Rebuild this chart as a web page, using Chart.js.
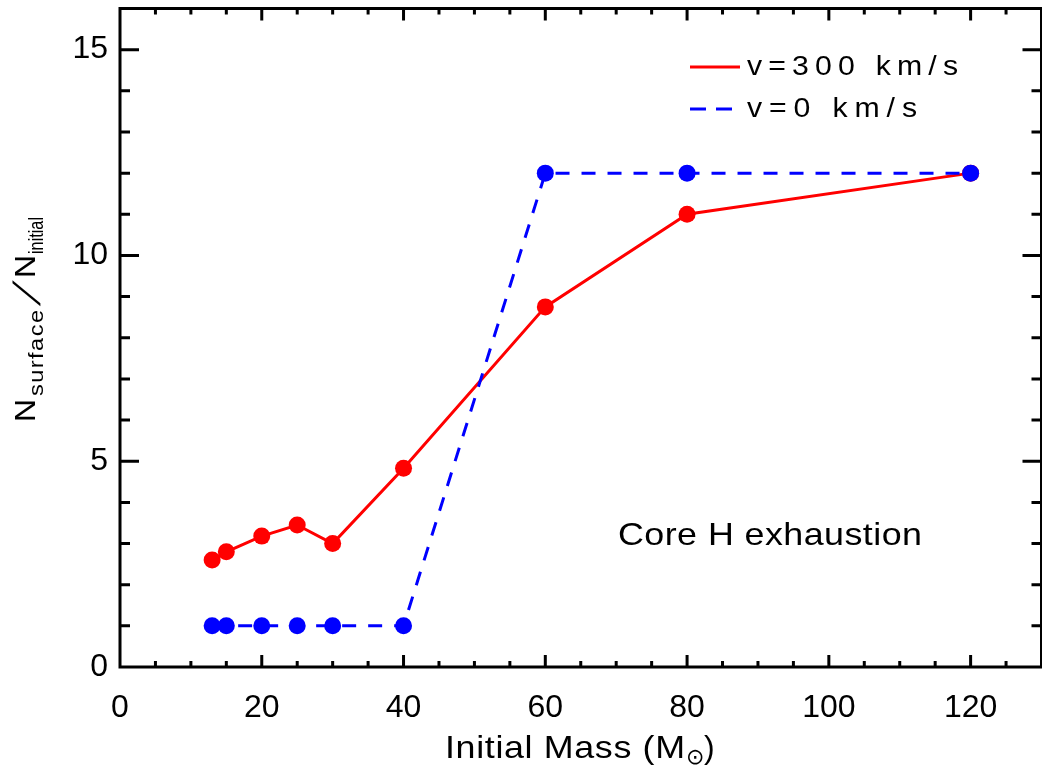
<!DOCTYPE html>
<html>
<head>
<meta charset="utf-8">
<script src="https://cdn.jsdelivr.net/npm/chart.js@4.4.1/dist/chart.umd.min.js"></script>
<style>
  html, body { margin: 0; padding: 0; background: #fff; overflow: hidden; }
  #wrap { width: 1050px; height: 774px; }
</style>
</head>
<body>
<div id="wrap"><canvas id="nChart" width="1050" height="774"></canvas></div>
<script>
// initial masses (Msun) and surface N enrichment
var massRot = [13, 15, 20, 25, 30, 40, 60, 80, 120];
var ratioRot = [2.6, 2.8, 3.18, 3.45, 3.0, 4.83, 8.75, 11.0, 12.0];
var massNoRot = [13, 15, 20, 25, 30, 40, 60, 80, 120];
var ratioNoRot = [1, 1, 1, 1, 1, 1, 12, 12, 12];

var xTicks = [0, 20, 40, 60, 80, 100, 120];
var yTicks = [0, 5, 10, 15];
var seriesNames = ['v=300 km/s', 'v=0 km/s'];

var FONT = '"Liberation Sans", Arial, sans-serif';

function toPoints(xs, ys) {
  return xs.map(function (x, i) { return { x: x, y: ys[i] }; });
}

// stretch a string to a given width: a bit of scaling, rest as letter spacing
function fitText(ctx, str, x, y, width) {
  ctx.letterSpacing = '0px';
  var w = ctx.measureText(str).width;
  var sx = Math.min(1.12, width / w);
  var ls = (width / sx - w) / Math.max(1, str.length - 1);
  ctx.save();
  ctx.translate(x, y);
  ctx.scale(sx, 1);
  ctx.letterSpacing = ls + 'px';
  ctx.fillText(str, 0, 0);
  ctx.restore();
  ctx.letterSpacing = '0px';
}

var framePlugin = {
  id: 'frame',
  afterDraw: function (chart) {
    var ctx = chart.ctx;
    var a = chart.chartArea;
    var xs = chart.scales.x, ys = chart.scales.y;
    ctx.save();
    ctx.strokeStyle = '#000';
    ctx.lineWidth = 3;
    ctx.strokeRect(a.left, a.top, a.right - a.left, a.bottom - a.top);

    ctx.beginPath();
    for (var v = 5; v <= 130; v += 5) {
      var px = xs.getPixelForValue(v);
      var len = (v % 20 === 0) ? 12 : 6;
      ctx.moveTo(px, a.bottom); ctx.lineTo(px, a.bottom - len);
      ctx.moveTo(px, a.top); ctx.lineTo(px, a.top + len);
    }
    for (var u = 1; u <= 16; u++) {
      var py = ys.getPixelForValue(u);
      var l2 = (u % 5 === 0) ? 19 : 10;
      ctx.moveTo(a.left, py); ctx.lineTo(a.left + l2, py);
      ctx.moveTo(a.right, py); ctx.lineTo(a.right - l2, py);
    }
    ctx.stroke();

    // legend
    ctx.lineWidth = 3;
    ctx.strokeStyle = '#ff0000';
    ctx.beginPath(); ctx.moveTo(690, 67); ctx.lineTo(740, 67); ctx.stroke();
    ctx.strokeStyle = '#0000ff';
    ctx.setLineDash([16, 10]);
    ctx.beginPath(); ctx.moveTo(690, 109); ctx.lineTo(733, 109); ctx.stroke();
    ctx.setLineDash([]);

    ctx.fillStyle = '#000';
    ctx.textAlign = 'left';
    ctx.textBaseline = 'alphabetic';
    ctx.font = '27px ' + FONT;
    fitText(ctx, seriesNames[0], 747, 75, 211);
    fitText(ctx, seriesNames[1], 747, 117, 170);

    ctx.font = '32px ' + FONT;
    fitText(ctx, 'Core H exhaustion', 618, 545, 304);

    // x title
    fitText(ctx, 'Initial Mass (M', 445, 758, 240);
    ctx.font = '22px "DejaVu Sans", sans-serif';
    ctx.fillText('\u2299', 686, 764);
    ctx.font = '32px ' + FONT;
    ctx.fillText(')', 704, 758);

    // y title, rotated
    ctx.translate(35, 422);
    ctx.rotate(-Math.PI / 2);
    ctx.font = '30px ' + FONT;
    fitText(ctx, 'N', 0, 0, 23);
    ctx.font = '21px ' + FONT;
    fitText(ctx, 'surface', 26, 8, 86);
    // wide, thin slash: shear the glyph instead of scaling it
    ctx.save();
    ctx.font = '38px ' + FONT;
    ctx.translate(116, 5);
    ctx.transform(1, 0, -0.55, 1, 0, 0);
    ctx.fillText('/', 0, 0);
    ctx.restore();
    ctx.font = '30px ' + FONT;
    fitText(ctx, 'N', 144, 0, 23);
    ctx.font = '21px ' + FONT;
    fitText(ctx, 'initial', 168, 8, 37);
    ctx.restore();
  }
};

function noPad(s) {
  s.paddingTop = 0; s.paddingBottom = 0;
  s.paddingLeft = 0; s.paddingRight = 0;
}

new Chart(document.getElementById('nChart'), {
  type: 'scatter',
  data: {
    datasets: [
      {
        label: seriesNames[1],
        data: toPoints(massNoRot, ratioNoRot),
        showLine: true,
        borderColor: '#0000ff',
        backgroundColor: '#0000ff',
        borderWidth: 3,
        borderDash: [14, 12],
        pointRadius: 8.5,
        pointBorderWidth: 0,
        pointHoverRadius: 8.5
      },
      {
        label: seriesNames[0],
        data: toPoints(massRot, ratioRot),
        showLine: true,
        borderColor: '#ff0000',
        backgroundColor: '#ff0000',
        borderWidth: 3,
        pointRadius: 8.5,
        pointBorderWidth: 0,
        pointHoverRadius: 8.5
      }
    ]
  },
  options: {
    responsive: false,
    animation: false,
    layout: { padding: { top: 6, right: 3, left: 0, bottom: 0 } },
    plugins: { legend: { display: false }, tooltip: { enabled: false } },
    scales: {
      x: {
        type: 'linear',
        min: 0, max: 130,
        grid: { display: false, drawTicks: false },
        border: { display: false },
        afterFit: function (s) { s.height = 107; noPad(s); },
        afterBuildTicks: function (s) { s.ticks = xTicks.map(function (v) { return { value: v }; }); },
        ticks: { color: '#000', padding: 22, font: { size: 32, family: FONT } }
      },
      y: {
        type: 'linear',
        min: 0, max: 16,
        grid: { display: false, drawTicks: false },
        border: { display: false },
        afterFit: function (s) { s.width = 120; noPad(s); },
        afterBuildTicks: function (s) { s.ticks = yTicks.map(function (v) { return { value: v }; }); },
        ticks: { color: '#000', padding: 12, font: { size: 32, family: FONT } }
      }
    }
  },
  plugins: [framePlugin]
});
</script>
</body>
</html>
